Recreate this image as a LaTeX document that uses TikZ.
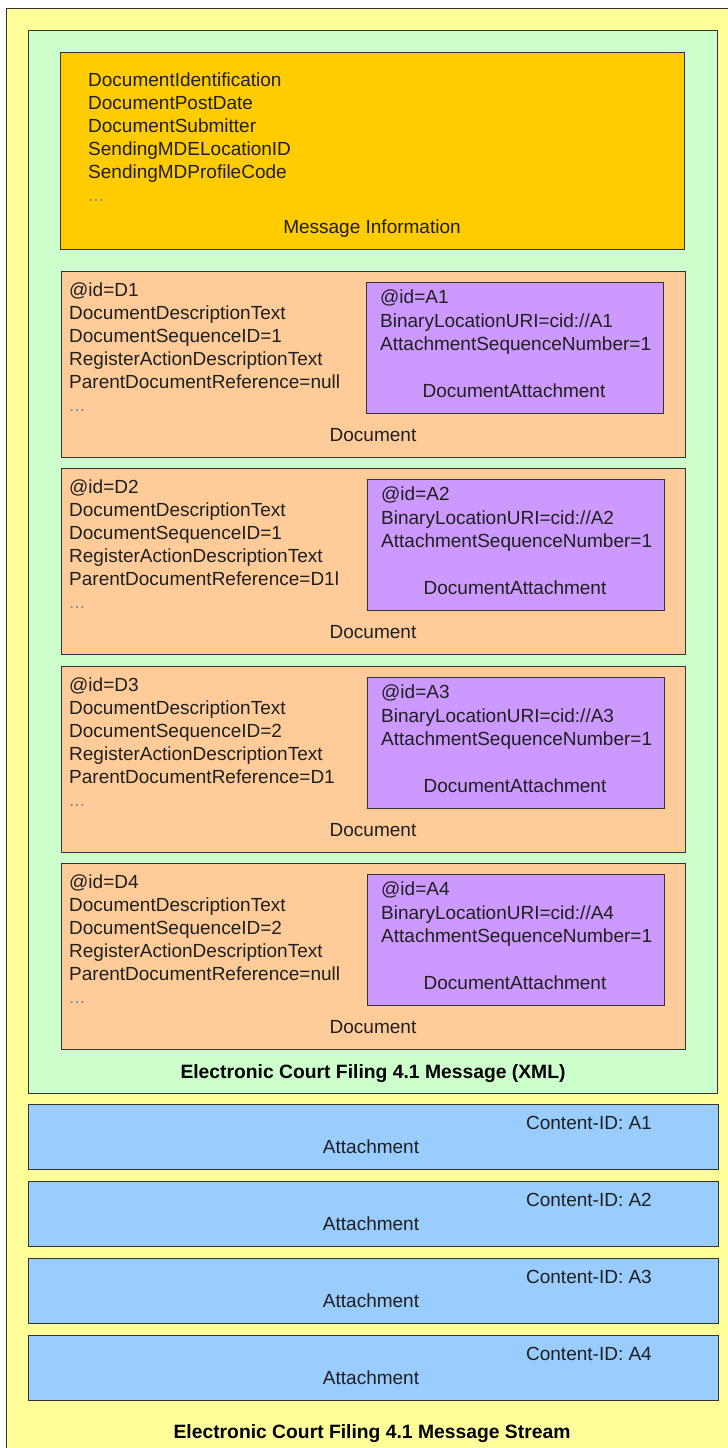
\documentclass[tikz,border=0pt]{standalone}
\usepackage{fontspec}
\setmainfont{Liberation Sans}
\usetikzlibrary{shadows}
\definecolor{streamY}{HTML}{FFFF99}
\definecolor{msgG}{HTML}{CCFFCC}
\definecolor{infoO}{HTML}{FFCC00}
\definecolor{docO}{HTML}{FFCC99}
\definecolor{attP}{HTML}{CC99FF}
\definecolor{blobB}{HTML}{99CCFF}
\begin{document}
\begin{tikzpicture}[x=1pt,y=-1pt,
  box/.style={draw=black!80, line width=0.9pt, anchor=north west, inner sep=0pt, outer sep=0pt,
    drop shadow={shadow xshift=1pt, shadow yshift=-1pt, opacity=0.5, fill=black}},
  txt/.style={font=\fontsize{19}{23}\selectfont, inner sep=0pt, text=black!88},
  lines/.style={txt, anchor=north west, align=left},
  bold/.style={txt, font=\bfseries\fontsize{19.3}{22}\selectfont, anchor=base, text=black}]
\useasboundingbox (0,0) rectangle (728,1448);
\fill[white] (0,0) rectangle (728,1448);
\begin{scope}
  \clip (0,0) rectangle (728,1448);
  \node[box, fill=streamY, minimum width=760, minimum height=1480] (stream) at (6,8) {};
\end{scope}
% XML message
\node[box, fill=msgG, minimum width=689, minimum height=1063] (msg) at (28,30) {};
\node[box, fill=infoO, minimum width=624, minimum height=197] (info) at (60,52) {};
\node[lines] (infotext) at (88,73) {DocumentIdentification\\DocumentPostDate\\DocumentSubmitter\\SendingMDELocationID\\SendingMDProfileCode\\\textcolor{black!45}{...}};
\node[txt, anchor=base] (infolabel) at (372,233) {Message Information};
% documents
\foreach \i/\t/\s/\p/\ax in {1/271/1/null/366, 2/468/1/D1l/367, 3/666/2/D1/367, 4/863/2/null/367}{
  \node[box, fill=docO, minimum width=624, minimum height=186] (doc\i) at (61,\t) {};
  \node[box, fill=attP, minimum width=297, minimum height=131] (att\i) at (\ax,\t+11) {};
  \node[lines] (doctext\i) at (69,\t+12) {@id=D\i\\DocumentDescriptionText\\DocumentSequenceID=\s\\RegisterActionDescriptionText\\ParentDocumentReference=\p\\\textcolor{black!45}{...}};
  \node[lines, font=\fontsize{19}{23.7}\selectfont] (atttext\i) at (\ax+14,\t+18.5) {@id=A\i\\BinaryLocationURI=cid://A\i\\AttachmentSequenceNumber=1};
  \node[txt, anchor=base] (attlabel\i) at (\ax+148,\t+126.5) {DocumentAttachment};
  \node[txt, anchor=base] (doclabel\i) at (373,\t+170.5) {Document};
}
\node[bold] (msglabel) at (373,1078) {Electronic Court Filing 4.1 Message (XML)};
% attachments in the stream
\foreach \i/\t in {1/1104, 2/1181, 3/1258, 4/1335}{
  \node[box, fill=blobB, minimum width=690, minimum height=65] (blob\i) at (28,\t) {};
  \node[txt, anchor=base east] (cid\i) at (652,\t+25.5) {Content-ID: A\i};
  \node[txt, anchor=base] (blobl\i) at (371,\t+49.5) {Attachment};
}
\node[bold] (streamlabel) at (372,1438) {Electronic Court Filing 4.1 Message Stream};
\end{tikzpicture}
\end{document}
